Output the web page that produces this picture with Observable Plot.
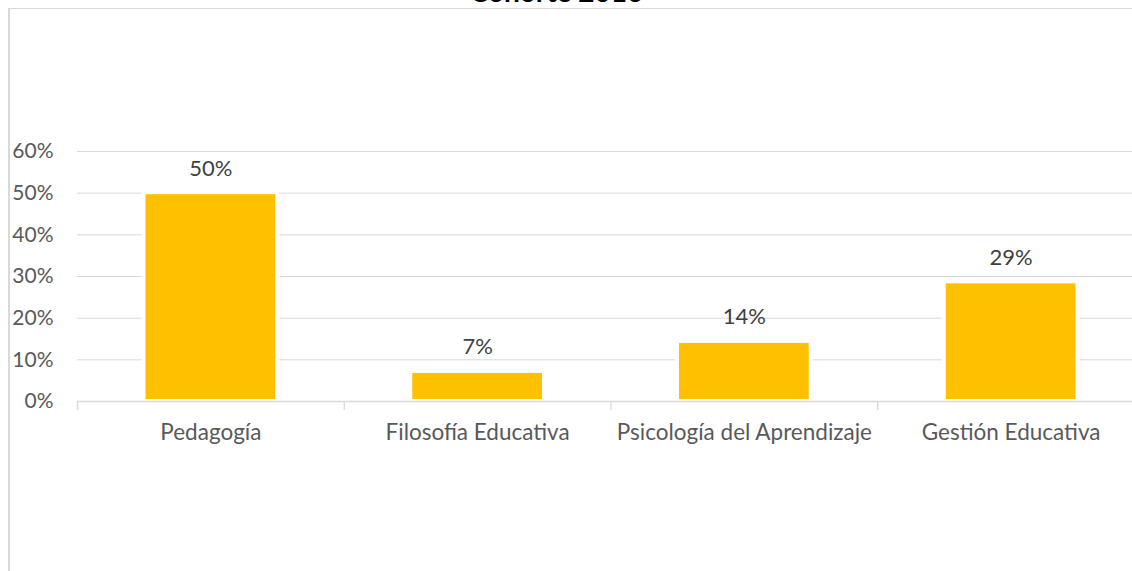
<!DOCTYPE html>
<html>
<head>
<meta charset="utf-8">
<script src="https://cdn.jsdelivr.net/npm/d3@7"></script>
<script src="https://cdn.jsdelivr.net/npm/@observablehq/plot@0.6"></script>
<style>
  body { margin: 0; background: #fff; }
  #wrap { position: relative; width: 1132px; height: 571px; overflow: hidden; background: #fff; }
  #frame { position: absolute; left: 8px; top: 8px; right: -10px; bottom: -10px;
           border-left: 2px solid #d9d9d9; border-top: 1px solid #d9d9d9; }
  #title { position: absolute; left: 0; width: 1113px; top: -23px; text-align: center;
           font: bold 28px Lato, sans-serif; line-height: 1; color: #000; white-space: nowrap; }
  #chart { position: absolute; left: 0; top: 0; }
</style>
</head>
<body>
<div id="wrap">
  <div id="frame"></div>
  <div id="title">Cohorte 2016</div>
  <div id="chart"></div>
</div>
<script>
const categories = ["Pedagogía", "Filosofía Educativa", "Psicología del Aprendizaje", "Gestión Educativa"];
const values = [0.50, 0.071, 0.143, 0.286];
const yTicks = [0, 0.1, 0.2, 0.3, 0.4, 0.5, 0.6];

const data = categories.map((c, i) => ({i, category: c, value: values[i]}));
const boundaries = d3.range(categories.length + 1);
const pct = d3.format(".0%");

const chart = Plot.plot({
  width: 1132,
  height: 571,
  marginTop: 151,
  marginBottom: 170,
  marginLeft: 77,
  marginRight: -12,
  x: {type: "linear", domain: [0, categories.length], axis: null},
  y: {domain: [0, 0.6], axis: null},
  style: {fontFamily: "Lato, sans-serif", background: "transparent", overflow: "visible"},
  marks: [
    Plot.ruleY(yTicks.slice(1), {stroke: "#d9d9d9", strokeWidth: 1}),
    Plot.rectY(data, {x1: "i", x2: d => d.i + 1, y1: 0, y2: "value", fill: "#ffffff",
      insetLeft: 64.5, insetRight: 64.5, insetTop: -3}),
    Plot.rectY(data, {x1: "i", x2: d => d.i + 1, y1: 0, y2: "value", fill: "#FFC000",
      insetLeft: 68.5, insetRight: 68.5, insetTop: 1.5, insetBottom: 2}),
    Plot.ruleY([0], {stroke: "#d9d9d9", strokeWidth: 1.3}),
    Plot.ruleX(boundaries, {x: d => d, stroke: "#d9d9d9", strokeWidth: 1.3, insetTop: 250, insetBottom: -9}),
    Plot.text(yTicks, {x: () => 0, y: d => d, text: d => pct(d), textAnchor: "end", dx: -24,
      lineAnchor: "middle", fontSize: 21, fill: "#595959"}),
    Plot.text(data, {x: d => d.i + 0.5, y: "value", text: d => pct(d.value), lineAnchor: "bottom",
      dy: -17.6, fontSize: 22, fill: "#404040"}),
    Plot.text(data, {x: d => d.i + 0.5, y: () => 0, text: "category", lineAnchor: "bottom",
      dy: 38.5, fontSize: 22.5, fill: "#595959"})
  ]
});
document.getElementById("chart").appendChild(chart);
</script>
</body>
</html>
